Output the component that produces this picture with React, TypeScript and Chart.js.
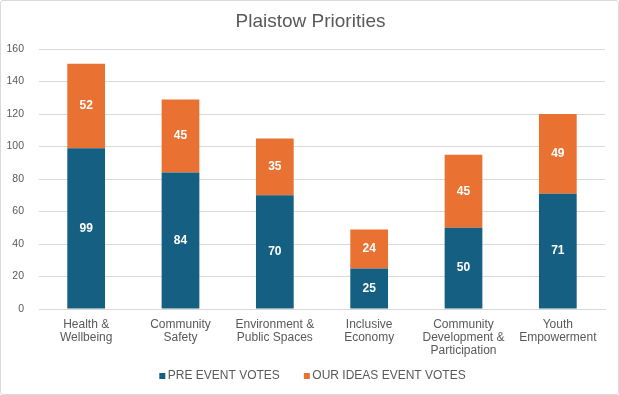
import React, { useEffect, useRef } from "react";
import { Chart, registerables } from "chart.js";

Chart.register(...registerables);

const categories: string[][] = [
  ["Health &", "Wellbeing"],
  ["Community", "Safety"],
  ["Environment &", "Public Spaces"],
  ["Inclusive", "Economy"],
  ["Community", "Development &", "Participation"],
  ["Youth", "Empowerment"],
];
const preEventVotes = [99, 84, 70, 25, 50, 71];
const ourIdeasVotes = [52, 45, 35, 24, 45, 49];
const yTicks = [0, 20, 40, 60, 80, 100, 120, 140, 160];
const seriesNames = ["PRE EVENT VOTES", "OUR IDEAS EVENT VOTES"];
const seriesColors = ["#156082", "#E97132"];
const titleText = "Plaistow Priorities";

const FONT = "'Liberation Sans', Arial, sans-serif";
const NARROW = "'Liberation Sans Narrow', 'Arial Narrow', 'Liberation Sans', sans-serif";
const GREY = "#595959";

const labelPlugin = {
  id: "barLabels",
  afterDatasetsDraw(chart: any) {
    const ctx = chart.ctx;
    ctx.save();
    ctx.fillStyle = "#ffffff";
    ctx.font = `bold 12px ${FONT}`;
    ctx.textAlign = "center";
    ctx.textBaseline = "middle";
    chart.data.datasets.forEach((ds: any, di: number) => {
      const meta = chart.getDatasetMeta(di);
      meta.data.forEach((el: any, i: number) => {
        const { x, y, base } = el.getProps(["x", "y", "base"], true);
        ctx.fillText(String(ds.data[i]), x, (y + base) / 2);
      });
    });
    ctx.restore();
  },
};

const decorPlugin = {
  id: "titleLegend",
  afterDraw(chart: any) {
    const ctx = chart.ctx;
    ctx.save();
    // title
    ctx.font = `19px ${FONT}`;
    ctx.fillStyle = GREY;
    ctx.textAlign = "center";
    ctx.textBaseline = "middle";
    ctx.fillText(titleText, chart.width / 2 + 1, 20.9);
    // legend
    ctx.font = `12px ${FONT}`;
    ctx.textAlign = "left";
    const box = 6;
    const boxGap = 2.5;
    const itemGap = 24;
    const widths = seriesNames.map((n) => ctx.measureText(n).width);
    const total =
      widths.reduce((a, b) => a + b, 0) + seriesNames.length * (box + boxGap) + itemGap * (seriesNames.length - 1);
    let x = chart.width / 2 + 3 - total / 2;
    const cy = chart.height - 18;
    seriesNames.forEach((n, i) => {
      ctx.fillStyle = seriesColors[i];
      ctx.fillRect(x, cy - box / 2, box, box);
      x += box + boxGap;
      ctx.fillStyle = GREY;
      ctx.fillText(n, x, cy);
      x += widths[i] + itemGap;
    });
    ctx.restore();
  },
};

export default function App() {
  const ref = useRef<HTMLCanvasElement | null>(null);
  useEffect(() => {
    document.body.style.margin = "0";
    const chart = new Chart(ref.current!, {
      type: "bar",
      data: {
        labels: categories,
        datasets: seriesNames.map((name, i) => ({
          label: name,
          data: i === 0 ? preEventVotes : ourIdeasVotes,
          backgroundColor: seriesColors[i],
          categoryPercentage: 1,
          barPercentage: 0.4,
        })),
      },
      options: {
        animation: false,
        responsive: false,
        maintainAspectRatio: false,
        layout: { padding: { left: 0, right: 13, top: 0, bottom: 35 } },
        plugins: {
          title: {
            display: true,
            text: titleText,
            color: "rgba(0,0,0,0)",
            font: { family: FONT, size: 19, weight: "normal" },
            padding: { top: 9.5, bottom: 15.7 },
          },
          legend: { display: false },
          tooltip: { enabled: false },
        },
        scales: {
          x: {
            stacked: true,
            grid: { display: false, drawTicks: false },
            border: { color: "#D9D9D9" },
            ticks: {
              color: GREY,
              font: { family: FONT, size: 12, lineHeight: 13 / 12 },
              padding: 9,
              maxRotation: 0,
              autoSkip: false,
            },
            afterFit(scale: any) {
              scale.height = 50;
            },
          },
          y: {
            stacked: true,
            min: 0,
            max: 160,
            afterBuildTicks(scale: any) {
              scale.ticks = yTicks.map((v) => ({ value: v }));
            },
            grid: { color: "#D9D9D9", drawTicks: false },
            border: { display: false },
            ticks: {
              color: GREY,
              font: { family: NARROW, size: 10.5 },
              padding: 15,
            },
            afterFit(scale: any) {
              scale.width = 38;
            },
          },
        },
      },
      plugins: [labelPlugin, decorPlugin],
    });
    return () => chart.destroy();
  }, []);
  return (
    <div
      style={{
        position: "absolute",
        left: 0,
        top: 0,
        width: 619,
        height: 395,
        boxSizing: "border-box",
        border: "1px solid #D9D9D9",
        borderRadius: 3,
        background: "#fff",
      }}
    >
      <canvas ref={ref} width={617} height={393} style={{ display: "block" }} />
    </div>
  );
}
